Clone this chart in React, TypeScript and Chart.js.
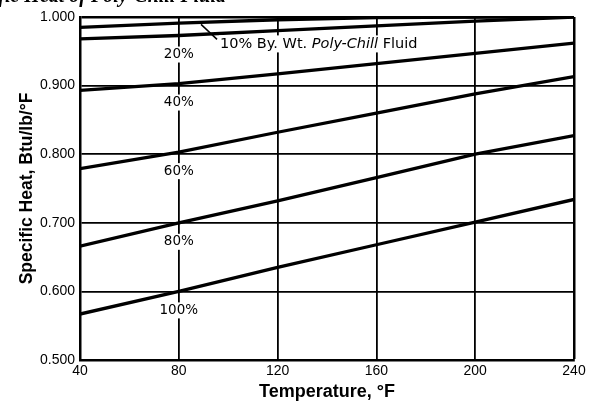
import React, { useEffect, useRef } from "react";
import { Chart, registerables } from "chart.js";

Chart.register(...registerables);

// ---- Data ----
const temperatures = [40, 80, 120, 160, 200, 240];
const conc10 = [0.985, 0.991, 0.996, 0.999, 1.0, 1.001];
const conc20 = [0.968, 0.973, 0.98, 0.987, 0.994, 1.0];
const conc40 = [0.893, 0.903, 0.917, 0.932, 0.947, 0.962];
const conc60 = [0.779, 0.803, 0.832, 0.86, 0.888, 0.913];
const conc80 = [0.666, 0.7, 0.732, 0.766, 0.8, 0.827];
const conc100 = [0.567, 0.6, 0.635, 0.668, 0.701, 0.734];
const seriesLabels = ["10%", "20%", "40%", "60%", "80%", "100%"];
const xTickValues = [40, 80, 120, 160, 200, 240];
const yTickValues = [0.5, 0.6, 0.7, 0.8, 0.9, 1.0];
const labelTemperature = 80;
const annotationText = ["10% By. Wt. ", "Poly-Chill", " Fluid"];
const annotationTemperature = 89;
const titleFragment = "Specific Heat of Poly-Chill Fluid";

const allSeries = [conc10, conc20, conc40, conc60, conc80, conc100];

const FONT = '"Liberation Sans", Arial, sans-serif';
const LABEL_FONT = '"DejaVu Sans", sans-serif';

function interp(vals: number[], t: number) {
  for (let i = 0; i < temperatures.length - 1; i++) {
    const a = temperatures[i], b = temperatures[i + 1];
    if (t >= a && t <= b) {
      const f = (t - a) / (b - a);
      return vals[i] + f * (vals[i + 1] - vals[i]);
    }
  }
  return vals[vals.length - 1];
}

const labelPlugin = {
  id: "curveLabels",
  afterDatasetsDraw(chart: any) {
    const { ctx, scales } = chart;
    const x = scales.x, y = scales.y;
    ctx.save();
    ctx.font = `13.5px ${LABEL_FONT}`;
    ctx.textAlign = "center";
    ctx.textBaseline = "middle";
    seriesLabels.forEach((lab, i) => {
      if (i === 0) return;
      const v = interp(allSeries[i], labelTemperature);
      const px = x.getPixelForValue(labelTemperature);
      const py = y.getPixelForValue(v) + 19;
      const w = ctx.measureText(lab).width;
      ctx.fillStyle = "#fff";
      ctx.fillRect(px - w / 2 - 2, py - 8, w + 4, 16);
      ctx.fillStyle = "#000";
      ctx.fillText(lab, px, py);
    });

    // 10% annotation with leader line
    const v10 = interp(conc10, annotationTemperature);
    const sx = x.getPixelForValue(annotationTemperature);
    const sy = y.getPixelForValue(v10) + 2;
    const ex = sx + 16, ey = sy + 15;
    ctx.strokeStyle = "#000";
    ctx.lineWidth = 1.5;
    ctx.beginPath();
    ctx.moveTo(sx, sy);
    ctx.lineTo(ex, ey);
    ctx.stroke();

    const fonts = [`14.5px ${LABEL_FONT}`, `italic 14.5px ${LABEL_FONT}`, `14.5px ${LABEL_FONT}`];
    const widths = annotationText.map((t, k) => {
      ctx.font = fonts[k];
      return ctx.measureText(t).width;
    });
    const total = widths.reduce((a, b) => a + b, 0);
    const tx = ex + 3, ty = ey + 5;
    ctx.fillStyle = "#fff";
    ctx.fillRect(tx - 1, ty - 9, total + 4, 17);
    ctx.fillStyle = "#000";
    ctx.textAlign = "left";
    let cx = tx;
    annotationText.forEach((t, k) => {
      ctx.font = fonts[k];
      ctx.fillText(t, cx, ty);
      cx += widths[k];
    });

    // cropped title fragment at the very top
    ctx.font = `italic bold 20px "Liberation Serif", serif`;
    ctx.textAlign = "right";
    ctx.textBaseline = "alphabetic";
    ctx.fillText(titleFragment, 226, 2);
    ctx.restore();
  },
};

export default function App() {
  const ref = useRef<HTMLCanvasElement | null>(null);
  useEffect(() => {
    if (!ref.current) return;
    const chart = new Chart(ref.current, {
      type: "line",
      data: {
        datasets: allSeries.map((vals, i) => ({
          label: seriesLabels[i],
          data: temperatures.map((t, k) => ({ x: t, y: vals[k] })),
          borderColor: "#000",
          borderWidth: 3.3,
          pointRadius: 0,
          tension: 0,
          fill: false,
        })),
      },
      options: {
        animation: false,
        responsive: true,
        maintainAspectRatio: false,
        layout: { padding: { left: 0, top: 17, right: 15, bottom: 0 } },
        plugins: { legend: { display: false }, tooltip: { enabled: false } },
        scales: {
          x: {
            type: "linear",
            min: 40,
            max: 240,
            afterBuildTicks: (s: any) => {
              s.ticks = xTickValues.map((v) => ({ value: v }));
            },
            afterFit: (s: any) => {
              s.height = 42;
            },
            ticks: {
              color: "#000",
              font: { family: FONT, size: 14 },
              padding: 3,
              maxRotation: 0,
            },
            grid: {
              color: "#000",
              lineWidth: (c: any) => (c.tick && c.tick.value === 240 ? 2.5 : 1.8),
              drawTicks: false,
            },
            border: { display: true, color: "#000", width: 2.5 },
            title: {
              display: true,
              text: "Temperature, °F",
              color: "#000",
              font: { family: FONT, size: 18, weight: "bold" },
              padding: { top: 0, bottom: -1 },
            },
          },
          y: {
            type: "linear",
            min: 0.5,
            max: 1.0,
            afterBuildTicks: (s: any) => {
              s.ticks = yTickValues.map((v) => ({ value: v }));
            },
            afterFit: (s: any) => {
              s.width = 80;
            },
            ticks: {
              color: "#000",
              font: { family: FONT, size: 14 },
              padding: 5,
              callback: (v: any) => Number(v).toFixed(3),
            },
            grid: {
              color: "#000",
              lineWidth: (c: any) => (c.tick && c.tick.value === 1.0 ? 2.5 : 1.8),
              drawTicks: false,
            },
            border: { display: true, color: "#000", width: 2.5 },
            title: {
              display: true,
              text: "Specific Heat, Btu/lb/°F",
              color: "#000",
              font: { family: FONT, size: 17.5, weight: "bold" },
              padding: { top: 17, bottom: 0 },
            },
          },
        },
      },
      plugins: [labelPlugin],
    });
    return () => chart.destroy();
  }, []);

  return (
    <div style={{ position: "fixed", left: 0, top: 0, width: 589, height: 402, background: "#fff" }}>
      <canvas ref={ref} />
    </div>
  );
}
